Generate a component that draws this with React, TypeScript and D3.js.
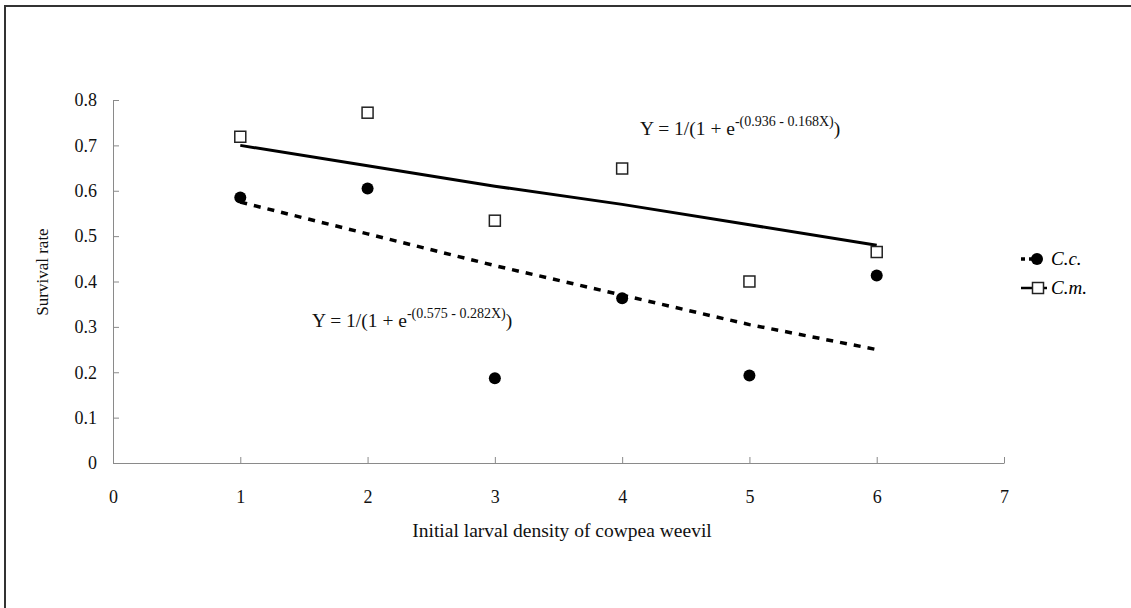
import React, { useRef, useEffect } from "react";
import * as d3 from "d3";

// larval density (x) and observed survival
const densities = [1, 2, 3, 4, 5, 6];
const ccSurvival = [0.585, 0.605, 0.187, 0.363, 0.193, 0.413];
const cmSurvival = [0.719, 0.772, 0.534, 0.649, 0.400, 0.465];
// fitted logistic curves at each density
const ccFitted = [0.575, 0.505, 0.435, 0.37, 0.305, 0.25];
const cmFitted = [0.70, 0.655, 0.61, 0.57, 0.525, 0.48];

const xTicks = [0, 1, 2, 3, 4, 5, 6, 7];
const yTicks = [0, 0.1, 0.2, 0.3, 0.4, 0.5, 0.6, 0.7, 0.8];

const FONT = "'Liberation Serif', 'DejaVu Serif', serif";

export default function App() {
  const svgRef = useRef<SVGSVGElement>(null);

  useEffect(() => {
    const svg = d3.select(svgRef.current);
    svg.selectAll("*").remove();

    const x = d3.scaleLinear().domain([0, 7]).range([113, 1004]);
    const y = d3.scaleLinear().domain([0, 0.8]).range([463, 100]);

    // frame (only top and left edges visible in the scan)
    svg.append("path")
      .attr("d", "M5,612 V6 H1135")
      .attr("fill", "none")
      .attr("stroke", "#333")
      .attr("stroke-width", 2);

    // axes
    const yAxis = svg.append("g")
      .attr("transform", `translate(${x(0)},0)`)
      .call(
        d3.axisLeft(y)
          .tickValues(yTicks)
          .tickSizeInner(-6)
          .tickSizeOuter(0)
          .tickPadding(16)
          .tickFormat(d => (d === 0 ? "0" : d3.format(".1f")(d as number)))
      );
    const xAxis = svg.append("g")
      .attr("transform", `translate(0,${y(0)})`)
      .call(
        d3.axisBottom(x)
          .tickValues(xTicks)
          .tickSizeInner(-6)
          .tickSizeOuter(0)
          .tickPadding(27)
          .tickFormat(d3.format("d"))
      );
    [xAxis, yAxis].forEach(g => {
      g.select(".domain").attr("stroke", "#8a8a8a");
      g.selectAll(".tick line").attr("stroke", "#8a8a8a");
      g.selectAll(".tick text")
        .attr("fill", "#111")
        .style("font-family", FONT)
        .style("font-size", "18px");
    });

    // axis titles
    svg.append("text")
      .attr("x", 562)
      .attr("y", 537)
      .attr("text-anchor", "middle")
      .style("font-family", FONT)
      .style("font-size", "19.5px")
      .attr("fill", "#111")
      .text("Initial larval density of cowpea weevil");
    svg.append("text")
      .attr("transform", "translate(48,272) rotate(-90)")
      .attr("text-anchor", "middle")
      .style("font-family", FONT)
      .style("font-size", "17px")
      .attr("fill", "#111")
      .text("Survival rate");

    // fitted lines
    const line = d3.line<number>()
      .x((d, i) => x(densities[i]))
      .y(d => y(d));
    svg.append("path")
      .attr("d", line(cmFitted))
      .attr("fill", "none")
      .attr("stroke", "#000")
      .attr("stroke-width", 3);
    svg.append("path")
      .attr("d", line(ccFitted))
      .attr("fill", "none")
      .attr("stroke", "#000")
      .attr("stroke-width", 3.5)
      .attr("stroke-dasharray", "7,7");

    // observed points
    svg.append("g")
      .selectAll("rect")
      .data(cmSurvival)
      .join("rect")
      .attr("x", (d, i) => x(densities[i]) - 5.5)
      .attr("y", d => y(d) - 5.5)
      .attr("width", 11)
      .attr("height", 11)
      .attr("fill", "#fff")
      .attr("stroke", "#222")
      .attr("stroke-width", 1.5);
    svg.append("g")
      .selectAll("circle")
      .data(ccSurvival)
      .join("circle")
      .attr("cx", (d, i) => x(densities[i]))
      .attr("cy", d => y(d))
      .attr("r", 6)
      .attr("fill", "#000");

    // equations
    const equation = (px: number, py: number, exp: string) => {
      const t = svg.append("text")
        .attr("x", px)
        .attr("y", py)
        .style("font-family", FONT)
        .style("font-size", "19.5px")
        .attr("fill", "#111");
      t.append("tspan").text("Y = 1/(1 + e");
      t.append("tspan").attr("dy", -9).style("font-size", "14px").text(exp);
      t.append("tspan").attr("dy", 9).text(")");
    };
    equation(640, 135, "-(0.936 - 0.168X)");
    equation(312, 327, "-(0.575 - 0.282X)");

    // legend
    const legend = svg.append("g")
      .style("font-family", FONT)
      .style("font-size", "19px")
      .style("font-style", "italic");
    const ccY = 259;
    const cmY = 288;
    legend.append("line")
      .attr("x1", 1021).attr("x2", 1045).attr("y1", ccY).attr("y2", ccY)
      .attr("stroke", "#000").attr("stroke-width", 3.5).attr("stroke-dasharray", "4,4");
    legend.append("circle").attr("cx", 1037).attr("cy", ccY).attr("r", 6).attr("fill", "#000");
    legend.append("text").attr("x", 1051).attr("y", ccY + 6).text("C.c.");
    legend.append("line")
      .attr("x1", 1021).attr("x2", 1047).attr("y1", cmY).attr("y2", cmY)
      .attr("stroke", "#000").attr("stroke-width", 2.5);
    legend.append("rect")
      .attr("x", 1032.5).attr("y", cmY - 5.5).attr("width", 11).attr("height", 11)
      .attr("fill", "#fff").attr("stroke", "#222").attr("stroke-width", 1.5);
    legend.append("text").attr("x", 1051).attr("y", cmY + 6).text("C.m.");
  }, []);

  return (
    <div style={{ position: "absolute", left: 0, top: 0 }}>
      <svg ref={svgRef} width={1131} height={608} style={{ display: "block", background: "#fff" }} />
    </div>
  );
}
